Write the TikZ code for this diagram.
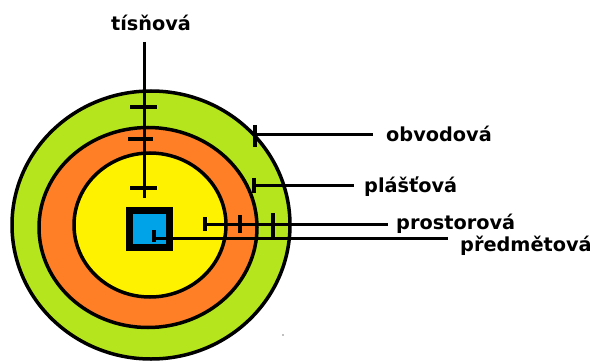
\documentclass[tikz,border=0pt]{standalone}
\usepackage{fontspec}
\setmainfont{DejaVu Sans}
\definecolor{ringlime}{HTML}{B5E61D}
\definecolor{ringorange}{HTML}{FF7F27}
\definecolor{ringyellow}{HTML}{FFF200}
\definecolor{objblue}{HTML}{00A2E8}
\begin{document}
\begin{tikzpicture}[x=1pt,y=-1pt,
  ring/.style={draw=black,line width=3.5pt},
  conn/.style={line width=3pt},
  tickmark/.style={line width=3.5pt},
  lbl/.style={font=\fontsize{19.3}{22}\selectfont\bfseries, anchor=base west, inner ysep=0pt}]
\useasboundingbox (0,0) rectangle (593,363);
\fill[white] (0,0) rectangle (593,363);
% rings
\draw[ring, fill=ringlime] (151,225) ellipse [x radius=139, y radius=134];
\draw[ring, fill=ringorange] (148,227.5) ellipse [x radius=109, y radius=100];
\draw[ring, fill=ringyellow] (150,225) ellipse [x radius=76, y radius=72];
% object
\node (obj) [draw, line width=7pt, fill=objblue, minimum width=40pt, minimum height=37pt, inner sep=0pt] at (149.5,229) {};
% labels
\node (tisn) [font=\fontsize{19.3}{22}\selectfont\bfseries, anchor=base, inner sep=0pt] at (151,31) {tísňová};
\node (obv) [lbl, inner xsep=13pt] at (373,142) {obvodová};
\node (plas) [lbl, inner xsep=10pt] at (354,193) {plášťová};
\node (pros) [lbl, inner xsep=8pt] at (388,229) {prostorová};
\node (pred) [lbl, inner xsep=12pt] at (448,251) {předmětová};
% connector anchors
\coordinate (tt) at (144,42);
\coordinate (tb) at (144,198);
\coordinate (o1) at (255,135);
\coordinate (p1) at (254,186);
\coordinate (r1) at (203,224);
\coordinate (d1) at (153,238);
% connectors
\draw[conn] (tt) -- (tb);
\draw[conn] (o1) -- (o1 -| obv.west);
\draw[conn] (p1) -- (p1 -| plas.west);
\draw[conn] (r1) -- (r1 -| pros.west);
\draw[conn] (d1) -- (d1 -| pred.west);
% ticks
\draw[tickmark] (130,107) -- (157,107);
\draw[tickmark] (128,139) -- (153,139);
\draw[tickmark] (130,188) -- (157,188);
\draw[tickmark] (255,125) -- (255,147);
\draw[tickmark] (254,178) -- (254,193);
\draw[tickmark] (205,217) -- (205,231);
\draw[tickmark] (240,215) -- (240,233);
\draw[tickmark] (273,213) -- (273,237);
\draw[tickmark] (154,230) -- (154,242);
\fill[gray] (283,335) circle (0.8);
\end{tikzpicture}
\end{document}
